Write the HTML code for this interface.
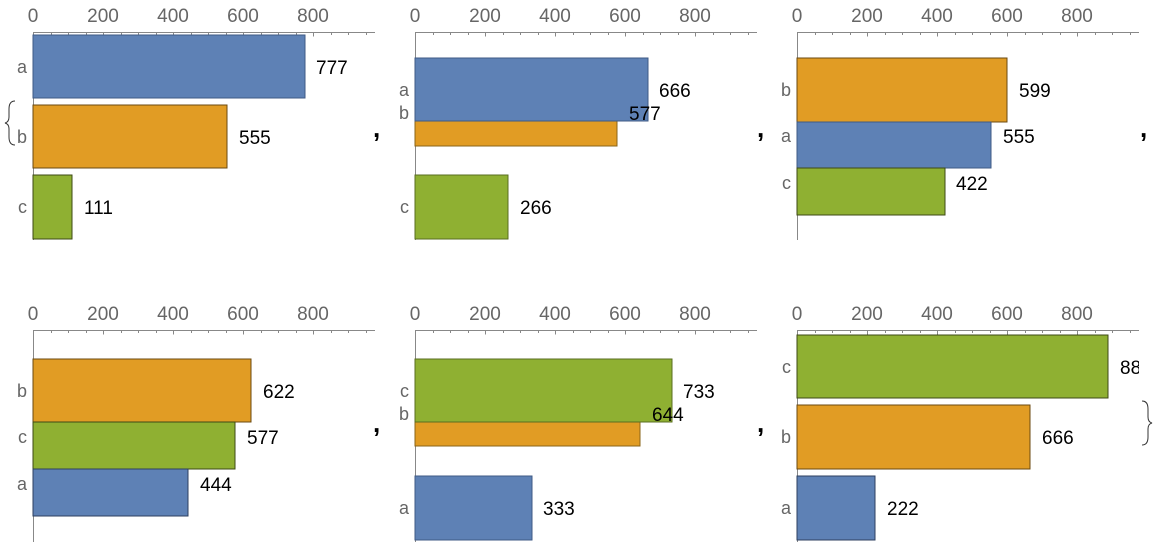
<!DOCTYPE html>
<html><head><meta charset="utf-8"><style>
html,body{margin:0;padding:0;background:#fff;width:1156px;height:546px;overflow:hidden}
svg text{font-family:"Liberation Sans",sans-serif}
</style></head><body>
<svg id="s" width="1156" height="546" xmlns="http://www.w3.org/2000/svg">
<g id="axes" stroke="#888" stroke-width="1" fill="none"></g>
<g stroke-width="1">
<rect x="33" y="35" width="272" height="63" fill="#5e81b5" stroke="#3f5a85"/>
<rect x="33" y="105" width="194" height="63" fill="#e19c24" stroke="#6b4a10"/>
<rect x="33" y="175" width="39" height="64" fill="#8fb032" stroke="#3d4a15"/>
<rect x="415" y="121" width="202" height="25" fill="#e19c24" stroke="#8a6418"/>
<rect x="415" y="58" width="233" height="63" fill="#5e81b5" stroke="#3f5a85"/>
<rect x="415" y="175" width="93" height="64" fill="#8fb032" stroke="#5a6e20"/>
<rect x="797" y="58" width="210" height="64" fill="#e19c24" stroke="#6b4a10"/>
<rect x="797" y="122" width="194" height="46" fill="#5e81b5" stroke="#3f5a85"/>
<rect x="797" y="168" width="148" height="47" fill="#8fb032" stroke="#3d4a15"/>
<rect x="33" y="359" width="218" height="63" fill="#e19c24" stroke="#6b4a10"/>
<rect x="33" y="422" width="202" height="47" fill="#8fb032" stroke="#3d4a15"/>
<rect x="33" y="469" width="155" height="47" fill="#5e81b5" stroke="#2d3f5f"/>
<rect x="415" y="422" width="225" height="24" fill="#e19c24" stroke="#8a6418"/>
<rect x="415" y="359" width="257" height="63" fill="#8fb032" stroke="#5a6e20"/>
<rect x="415" y="476" width="117" height="64" fill="#5e81b5" stroke="#3f5a85"/>
<rect x="797" y="335" width="311" height="63" fill="#8fb032" stroke="#3d4a15"/>
<rect x="797" y="405" width="233" height="64" fill="#e19c24" stroke="#6b4a10"/>
<rect x="797" y="476" width="78" height="64" fill="#5e81b5" stroke="#2d3f5f"/>
</g>
<g font-size="19" fill="#666" text-anchor="middle">
<text x="33" y="22">0</text><text x="103" y="22">200</text><text x="173" y="22">400</text><text x="243" y="22">600</text><text x="313" y="22">800</text>
<text x="415" y="22">0</text><text x="485" y="22">200</text><text x="555" y="22">400</text><text x="625" y="22">600</text><text x="695" y="22">800</text>
<text x="797" y="22">0</text><text x="867" y="22">200</text><text x="937" y="22">400</text><text x="1007" y="22">600</text><text x="1077" y="22">800</text>
<text x="33" y="320">0</text><text x="103" y="320">200</text><text x="173" y="320">400</text><text x="243" y="320">600</text><text x="313" y="320">800</text>
<text x="415" y="320">0</text><text x="485" y="320">200</text><text x="555" y="320">400</text><text x="625" y="320">600</text><text x="695" y="320">800</text>
<text x="797" y="320">0</text><text x="867" y="320">200</text><text x="937" y="320">400</text><text x="1007" y="320">600</text><text x="1077" y="320">800</text>
</g>
<g font-size="18" fill="#666" text-anchor="end">
<text x="27" y="73">a</text><text x="27" y="143">b</text><text x="27" y="213">c</text>
<text x="409" y="96">a</text><text x="409" y="119">b</text><text x="409" y="213">c</text>
<text x="791" y="96">b</text><text x="791" y="142">a</text><text x="791" y="189">c</text>
<text x="27" y="397">b</text><text x="27" y="443">c</text><text x="27" y="490">a</text>
<text x="409" y="397">c</text><text x="409" y="420">b</text><text x="409" y="514">a</text>
<text x="791" y="373">c</text><text x="791" y="443">b</text><text x="791" y="514">a</text>
</g>
<g font-size="19" fill="#000">
<text x="316" y="74">777</text><text x="239" y="144">555</text><text x="84" y="214">111</text>
<text x="659" y="97">666</text><text x="629" y="120">577</text><text x="520" y="214">266</text>
<text x="1019" y="97">599</text><text x="1003" y="143">555</text><text x="956" y="190">422</text>
<text x="263" y="398">622</text><text x="247" y="444">577</text><text x="200" y="491">444</text>
<text x="683" y="398">733</text><text x="652" y="421">644</text><text x="543" y="515">333</text>
<text x="1120" y="374">888</text><text x="1042" y="444">666</text><text x="887" y="515">222</text>
</g>
<g font-size="26" fill="#000" font-weight="bold">
<text x="373" y="137">,</text><text x="757" y="137">,</text><text x="1140" y="137">,</text>
<text x="373" y="432">,</text><text x="757" y="432">,</text>
</g>
<rect x="1139" y="335" width="17" height="50" fill="#fff"/>
<path d="M15 101 Q9 101 9 109 L9 117 Q9 122 5 123 Q9 124 9 129 L9 137 Q9 145 15 145" fill="none" stroke="#333" stroke-width="1"/>
<path d="M1142 401 Q1148 401 1148 409 L1148 417 Q1148 422 1152 423 Q1148 424 1148 429 L1148 437 Q1148 445 1142 445" fill="none" stroke="#333" stroke-width="1"/>
</svg>
<script>
var g=document.getElementById('axes'),ns='http://www.w3.org/2000/svg';
function L(x1,y1,x2,y2){var l=document.createElementNS(ns,'line');l.setAttribute('x1',x1);l.setAttribute('y1',y1);l.setAttribute('x2',x2);l.setAttribute('y2',y2);g.appendChild(l);}
[[33,32,240,375],[415,32,240,757],[797,32,240,1139],[33,330,542,375],[415,330,542,757],[797,330,542,1139]].forEach(function(p){
var x0=p[0],y=p[1]+0.5;L(x0,y,p[3],y);L(x0+0.5,p[1],x0+0.5,p[2]);
for(var v=0;x0+v*0.35<p[3];v+=50){var x=Math.round(x0+v*0.35)+0.5;L(x,y,x,y+(v%200==0?4:2.5));}
});
</script>
</body></html>
